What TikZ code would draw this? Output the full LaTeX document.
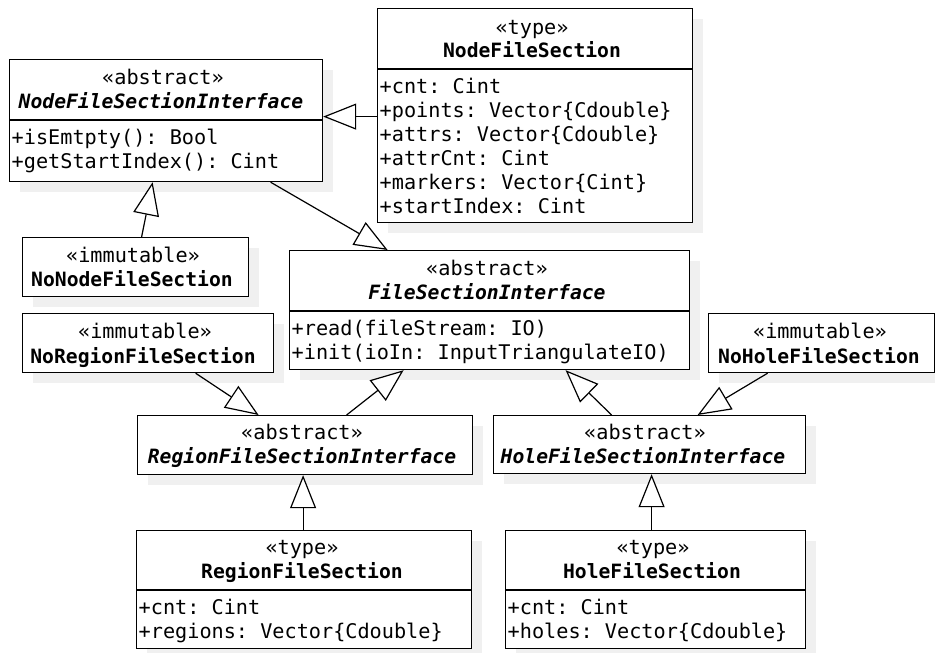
\documentclass[tikz,border=0pt]{standalone}
\usepackage{fontspec}
\setmainfont{DejaVu Sans Mono}[
  BoldFont={DejaVu Sans Mono Bold},
  ItalicFont={DejaVu Sans Mono Oblique},
  BoldItalicFont={DejaVu Sans Mono Bold Oblique}]
\usetikzlibrary{arrows.meta,shadows}

\newcommand\umlfont{\fontsize{20.2pt}{24pt}\selectfont\frenchspacing}
\newcommand\umlnamefont{\fontsize{19.7pt}{24pt}\selectfont\bfseries}

\tikzset{
  classbox/.style={draw, line width=1.2pt, fill=white, inner sep=0pt,
    anchor=north west,
    drop shadow={shadow xshift=10.5pt, shadow yshift=-10.5pt,
      fill=black!6, opacity=1, draw=none}},
  divider/.style={line width=1.2pt},
  stereo/.style={anchor=base, inner sep=0pt, font=\umlfont},
  cname/.style={anchor=base, inner sep=0pt, font=\umlnamefont},
  aname/.style={anchor=base, inner sep=0pt, font=\umlnamefont\itshape},
  member/.style={anchor=base west, inner sep=0pt, font=\umlfont},
  inherit/.style={line width=1.2pt, line join=miter,
    -{Triangle[length=33pt, width=26pt, fill=white]}},
}

\begin{document}
\begin{tikzpicture}[x=1pt, y=-1pt]
\useasboundingbox (0,0) rectangle (935,653);

% ---------- NodeFileSectionInterface ----------
\node[classbox, minimum width=313pt, minimum height=122pt] (nfsi) at (9,59) {};
\draw[divider] (nfsi.west |- 0,120) -- (nfsi.east |- 0,120);
\node[stereo] (nfsi-st) at (163,84.5) {«abstract»};
\node[aname]  (nfsi-nm) at (161,108) {NodeFileSectionInterface};
\node[member] (nfsi-m1) at (11.5,144) {+isEmtpty(): Bool};
\node[member] (nfsi-m2) at (11.5,168) {+getStartIndex(): Cint};

% ---------- NodeFileSection ----------
\node[classbox, minimum width=315pt, minimum height=214pt] (nfs) at (377,8) {};
\draw[divider] (nfs.west |- 0,69) -- (nfs.east |- 0,69);
\node[stereo] (nfs-st) at (532,34.5) {«type»};
\node[cname]  (nfs-nm) at (532,57.5) {NodeFileSection};
\node[member] (nfs-a1) at (379.5,93)  {+cnt: Cint};
\node[member] (nfs-a2) at (379.5,117) {+points: Vector\{Cdouble\}};
\node[member] (nfs-a3) at (379.5,141) {+attrs: Vector\{Cdouble\}};
\node[member] (nfs-a4) at (379.5,165) {+attrCnt: Cint};
\node[member] (nfs-a5) at (379.5,189) {+markers: Vector\{Cint\}};
\node[member] (nfs-a6) at (379.5,213) {+startIndex: Cint};

% ---------- NoNodeFileSection ----------
\node[classbox, minimum width=226pt, minimum height=59pt] (nonode) at (22,237) {};
\node[stereo] (nonode-st) at (133,262) {«immutable»};
\node[cname]  (nonode-nm) at (132,286.5) {NoNodeFileSection};

% ---------- NoRegionFileSection ----------
\node[classbox, minimum width=251pt, minimum height=59pt] (noreg) at (22,313) {};
\node[stereo] (noreg-st) at (145,338.5) {«immutable»};
\node[cname]  (noreg-nm) at (143,363) {NoRegionFileSection};

% ---------- FileSectionInterface ----------
\node[classbox, minimum width=400pt, minimum height=119pt] (fsi) at (289,250) {};
\draw[divider] (fsi.west |- 0,311) -- (fsi.east |- 0,311);
\node[stereo] (fsi-st) at (487,275) {«abstract»};
\node[aname]  (fsi-nm) at (487,299) {FileSectionInterface};
\node[member] (fsi-m1) at (291.5,335.5) {+read(fileStream: IO)};
\node[member] (fsi-m2) at (291.5,359.5) {+init(ioIn: InputTriangulateIO)};

% ---------- NoHoleFileSection ----------
\node[classbox, minimum width=226pt, minimum height=59pt] (nohole) at (708,313) {};
\node[stereo] (nohole-st) at (820,338) {«immutable»};
\node[cname]  (nohole-nm) at (819,363) {NoHoleFileSection};

% ---------- RegionFileSectionInterface ----------
\node[classbox, minimum width=335pt, minimum height=59pt] (rfsi) at (137,415) {};
\node[stereo] (rfsi-st) at (302,439) {«abstract»};
\node[aname]  (rfsi-nm) at (302,463) {RegionFileSectionInterface};

% ---------- HoleFileSectionInterface ----------
\node[classbox, minimum width=312pt, minimum height=58pt] (hfsi) at (493,415) {};
\node[stereo] (hfsi-st) at (645,439) {«abstract»};
\node[aname]  (hfsi-nm) at (643,463) {HoleFileSectionInterface};

% ---------- RegionFileSection ----------
\node[classbox, minimum width=335pt, minimum height=118pt] (rfs) at (136,530) {};
\draw[divider] (rfs.west |- 0,590) -- (rfs.east |- 0,590);
\node[stereo] (rfs-st) at (302,554) {«type»};
\node[cname]  (rfs-nm) at (302,578) {RegionFileSection};
\node[member] (rfs-a1) at (138.5,614) {+cnt: Cint};
\node[member] (rfs-a2) at (138.5,638) {+regions: Vector\{Cdouble\}};

% ---------- HoleFileSection ----------
\node[classbox, minimum width=300pt, minimum height=118pt] (hfs) at (505,530) {};
\draw[divider] (hfs.west |- 0,590) -- (hfs.east |- 0,590);
\node[stereo] (hfs-st) at (653,554) {«type»};
\node[cname]  (hfs-nm) at (652,578) {HoleFileSection};
\node[member] (hfs-a1) at (507.5,614) {+cnt: Cint};
\node[member] (hfs-a2) at (507.5,638) {+holes: Vector\{Cdouble\}};

% ---------- generalizations ----------
\draw[inherit] ([yshift=-1pt]nfs.west) -- ([yshift=-1pt]nfs.west -| nfsi.east);
\draw[inherit] ([xshift=6pt]nonode.north) -- ([xshift=-13.5pt]nfsi.south);
\draw[inherit] ([xshift=104.5pt]nfsi.south) -- ([xshift=-102pt]fsi.north);
\draw[inherit] ([xshift=47.5pt]noreg.south) -- ([xshift=-46.5pt]rfsi.north);
\draw[inherit] ([xshift=41.5pt]rfsi.north) -- ([xshift=-86pt]fsi.south);
\draw[inherit] ([xshift=-38pt]hfsi.north) -- ([xshift=76pt]fsi.south);
\draw[inherit] ([xshift=-54pt]nohole.south) -- ([xshift=48pt]hfsi.north);
\draw[inherit] ([xshift=-1pt]rfs.north) -- ([xshift=-1pt]rfs.north |- rfsi.south);
\draw[inherit] ([xshift=-4pt]hfs.north) -- ([xshift=-4pt]hfs.north |- hfsi.south);
\end{tikzpicture}
\end{document}
